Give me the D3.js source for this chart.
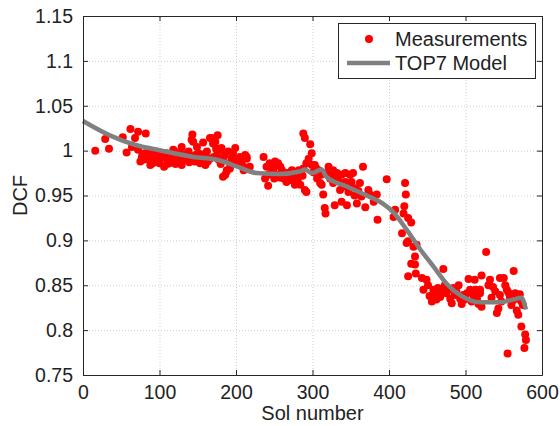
<!DOCTYPE html>
<html>
<head>
<meta charset="utf-8">
<script src="https://cdn.jsdelivr.net/npm/d3@7"></script>
<style>
  body { margin: 0; background: #fff; }
  svg text { font-family: "Liberation Sans", Arial, Helvetica, sans-serif; fill: #222; }
</style>
</head>
<body>
<div id="viz"></div>
<script>
const measSol = [
  16, 29, 34, 52, 57, 62, 64, 68, 72, 72, 75, 77, 78, 81, 82, 83, 86, 88, 90, 92,
  94, 96, 98, 100, 103, 104, 106, 109, 110, 112, 114, 116, 118, 120, 122, 125, 127, 129, 131,
  129, 135, 136, 138, 142, 143, 144, 146, 149, 151, 153, 153, 157, 160, 162, 166, 166, 168, 170,
  173, 175, 176, 177, 179, 181, 183, 183, 186, 188, 188, 190, 192, 192, 196, 197, 199, 201, 203,
  207, 210, 210, 212, 214, 214, 218, 236, 238, 240, 242, 242, 244, 249, 251, 253, 255, 258, 262,
  266, 266, 273, 273, 275, 277, 279, 281, 284, 284, 288, 288, 290, 290, 292, 292, 295, 297, 299, 299,
  303, 306, 308, 310, 312, 314, 316, 317, 321, 323, 327, 327, 329, 332, 332, 336, 338, 338, 343, 343,
  345, 347, 349, 351, 353, 356, 358, 362, 364, 366, 369, 373, 375, 380, 384, 385, 397, 406, 408, 417,
  419, 420, 421, 422, 423, 425, 429,
  425, 425, 429, 432, 434, 434, 435, 436, 443, 449, 451, 458, 460, 464, 467, 469, 471, 473, 475, 480,
  482, 484, 486, 491, 493, 497, 499, 502, 504, 506, 510, 512, 515, 519, 519, 521, 521, 527,
  530, 532, 536, 539, 541, 543, 545, 545, 550, 552, 554, 555, 558, 560, 563, 565, 567, 569, 569, 573,
  573, 577, 578, 579,
  80, 85, 91, 97, 101, 107, 113, 117, 121, 124,
  133, 139, 147, 155, 158, 163, 171, 174, 180, 185, 194, 205, 246, 250, 257, 260, 264, 270, 282, 287,
  301, 305, 311, 318, 325, 334, 340, 348, 355, 360,
  445, 453, 456, 462, 478, 488, 495, 508, 513, 517,
  534, 547, 556, 562, 571, 575
];
const measDcf = [
  1.000, 1.013, 1.002, 1.015, 0.998, 1.024, 1.004, 1.014, 1.021, 1.001, 0.988, 0.993, 0.996, 0.997, 1.019, 0.991, 0.993, 0.984, 0.999, 0.991,
  0.988, 0.995, 0.990, 0.986, 0.996, 0.992, 0.982, 0.997, 0.985, 0.989, 0.991, 0.996, 1.001, 0.999, 0.994, 0.988, 0.997, 1.004, 0.993,
  0.984, 0.990, 0.991, 0.999, 1.012, 1.018, 1.010, 0.988, 1.004, 0.997, 0.986, 0.993, 1.009, 0.984, 0.999, 0.991, 1.014, 1.014, 1.008,
  1.010, 0.995, 1.017, 0.990, 1.001, 1.003, 0.971, 0.991, 0.973, 0.977, 0.978, 0.999, 0.980, 0.986, 0.997, 0.986, 1.003, 0.990, 0.991,
  0.986, 0.982, 0.978, 0.995, 0.991, 0.993, 0.982, 0.993, 0.969, 0.982, 0.961, 0.973, 0.986, 0.980, 0.988, 0.973, 0.986, 0.982, 0.969,
  0.965, 0.975, 0.967, 0.978, 0.971, 0.962, 0.965, 0.969, 0.975, 0.962, 1.019, 0.980, 1.014, 0.956, 0.986, 0.954, 0.991, 1.007, 0.997, 0.984,
  0.984, 0.969, 0.978, 0.964, 0.962, 0.951, 0.936, 0.930, 0.982, 0.969, 0.978, 0.964, 0.939, 0.969, 0.975, 0.956, 0.973, 0.943, 0.975, 0.965,
  0.939, 0.954, 0.973, 0.965, 0.975, 0.958, 0.941, 0.964, 0.949, 0.982, 0.937, 0.956, 0.951, 0.943, 0.951, 0.923, 0.968, 0.926, 0.934, 0.908,
  0.930, 0.938, 0.964, 0.951, 0.897, 0.925, 0.920,
  0.899, 0.860, 0.874, 0.893, 0.882, 0.873, 0.863, 0.895, 0.858, 0.856, 0.850, 0.845, 0.839, 0.847, 0.837, 0.843, 0.868, 0.850, 0.841, 0.835,
  0.830, 0.847, 0.839, 0.850, 0.835, 0.839, 0.834, 0.841, 0.857, 0.845, 0.839, 0.856, 0.835, 0.841, 0.845, 0.861, 0.826, 0.887,
  0.850, 0.856, 0.848, 0.843, 0.819, 0.824, 0.858, 0.839, 0.858, 0.850, 0.845, 0.774, 0.837, 0.828, 0.866, 0.841, 0.822, 0.835, 0.817, 0.832,
  0.804, 0.780, 0.795, 0.789,
  0.990, 0.997, 0.986, 0.993, 0.998, 0.994, 0.986, 0.990, 0.985, 0.993,
  0.996, 0.987, 0.995, 0.990, 0.996, 0.988, 0.993, 1.002, 0.985, 0.995, 0.991, 0.993, 0.975, 0.969, 0.970, 0.978, 0.972, 0.969, 0.978, 0.972,
  0.976, 0.980, 0.973, 0.975, 0.972, 0.966, 0.960, 0.962, 0.950, 0.955,
  0.845, 0.838, 0.832, 0.834, 0.845, 0.843, 0.829, 0.832, 0.845, 0.829,
  0.836, 0.832, 0.842, 0.833, 0.840, 0.828
];

// TOP7 model curve
const modelSol = [0, 35, 70, 100, 144, 179, 205, 227, 257, 284, 290, 299, 312, 318, 345, 371, 392, 405, 423, 440, 458, 475, 493, 519, 545, 562, 573, 579];
const modelDcf = [1.033, 1.017, 1.006, 1.0005, 0.993, 0.989, 0.981, 0.975, 0.974, 0.977, 0.979, 0.975, 0.979, 0.971, 0.960, 0.950, 0.941, 0.932, 0.912, 0.891, 0.871, 0.852, 0.839, 0.831, 0.831, 0.834, 0.836, 0.823];

const xTicks = [0, 100, 200, 300, 400, 500, 600];
const yTicks = [0.75, 0.8, 0.85, 0.9, 0.95, 1, 1.05, 1.1, 1.15];
const yTickLabels = ["0.75", "0.8", "0.85", "0.9", "0.95", "1", "1.05", "1.1", "1.15"];

const width = 560;
const height = 426;
const margin = { left: 83, right: 18, top: 16, bottom: 51 };

const svg = d3.select("#viz").append("svg")
    .attr("width", width)
    .attr("height", height);

const x = d3.scaleLinear().domain([0, 600]).range([margin.left, width - margin.right]);
const y = d3.scaleLinear().domain([0.75, 1.15]).range([height - margin.bottom, margin.top]);

const axisColor = "#262626";

// grid
const grid = svg.append("g").attr("stroke", "#cfcfcf").attr("stroke-dasharray", "1,2").attr("stroke-width", 1);
grid.selectAll(".gx").data(xTicks.slice(1, -1)).enter().append("line")
    .attr("x1", d => x(d) + 0.5).attr("x2", d => x(d) + 0.5)
    .attr("y1", y(0.75)).attr("y2", y(1.15));
grid.selectAll(".gy").data(yTicks.slice(1, -1)).enter().append("line")
    .attr("x1", x(0)).attr("x2", x(600))
    .attr("y1", d => y(d) + 0.5).attr("y2", d => y(d) + 0.5);

// measurements
svg.append("g").selectAll("circle")
    .data(measSol.map((s, i) => [s, measDcf[i]]))
    .enter().append("circle")
    .attr("cx", d => x(d[0]))
    .attr("cy", d => y(d[1]))
    .attr("r", 4)
    .attr("fill", "#ff0000");

// model
const line = d3.line()
    .x(d => x(d[0]))
    .y(d => y(d[1]))
    .curve(d3.curveMonotoneX);

svg.append("path")
    .datum(modelSol.map((s, i) => [s, modelDcf[i]]))
    .attr("d", line)
    .attr("fill", "none")
    .attr("stroke", "#808080")
    .attr("stroke-width", 4.5)
    .attr("stroke-linejoin", "round");

// axes
function styleAxis(g) {
  g.selectAll("path.domain").attr("stroke", axisColor);
  g.selectAll(".tick line").attr("stroke", axisColor);
  g.selectAll(".tick text").style("font-size", "19.5px").attr("fill", "#222");
}

svg.append("g")
    .attr("transform", `translate(0,${y(0.75)})`)
    .call(d3.axisBottom(x).tickValues(xTicks).tickSizeInner(-5).tickSizeOuter(0).tickPadding(10))
    .call(styleAxis);

svg.append("g")
    .attr("transform", `translate(${x(0)},0)`)
    .call(d3.axisLeft(y).tickValues(yTicks).tickFormat((d, i) => yTickLabels[i]).tickSizeInner(-5).tickSizeOuter(0).tickPadding(10))
    .call(styleAxis);

svg.append("g")
    .attr("transform", `translate(0,${y(1.15)})`)
    .call(d3.axisTop(x).tickValues(xTicks).tickFormat("").tickSizeInner(-5).tickSizeOuter(0))
    .call(styleAxis);

svg.append("g")
    .attr("transform", `translate(${x(600)},0)`)
    .call(d3.axisRight(y).tickValues(yTicks).tickFormat("").tickSizeInner(-5).tickSizeOuter(0))
    .call(styleAxis);

// labels
svg.append("text")
    .attr("x", (x(0) + x(600)) / 2)
    .attr("y", 420)
    .attr("text-anchor", "middle")
    .style("font-size", "20px")
    .text("Sol number");

svg.append("text")
    .attr("transform", `translate(27,${(y(0.75) + y(1.15)) / 2}) rotate(-90)`)
    .attr("text-anchor", "middle")
    .style("font-size", "20px")
    .text("DCF");

// legend
const legend = svg.append("g");
legend.append("rect")
    .attr("x", 338.5).attr("y", 23.5)
    .attr("width", 197).attr("height", 55)
    .attr("fill", "#fff")
    .attr("stroke", axisColor);
legend.append("circle")
    .attr("cx", 369).attr("cy", 39).attr("r", 4).attr("fill", "#ff0000");
legend.append("text")
    .attr("x", 395).attr("y", 46)
    .style("font-size", "20px")
    .text("Measurements");
legend.append("line")
    .attr("x1", 347).attr("x2", 390).attr("y1", 63).attr("y2", 63)
    .attr("stroke", "#808080").attr("stroke-width", 4.5);
legend.append("text")
    .attr("x", 395).attr("y", 70)
    .style("font-size", "20px")
    .text("TOP7 Model");
</script>
</body>
</html>
